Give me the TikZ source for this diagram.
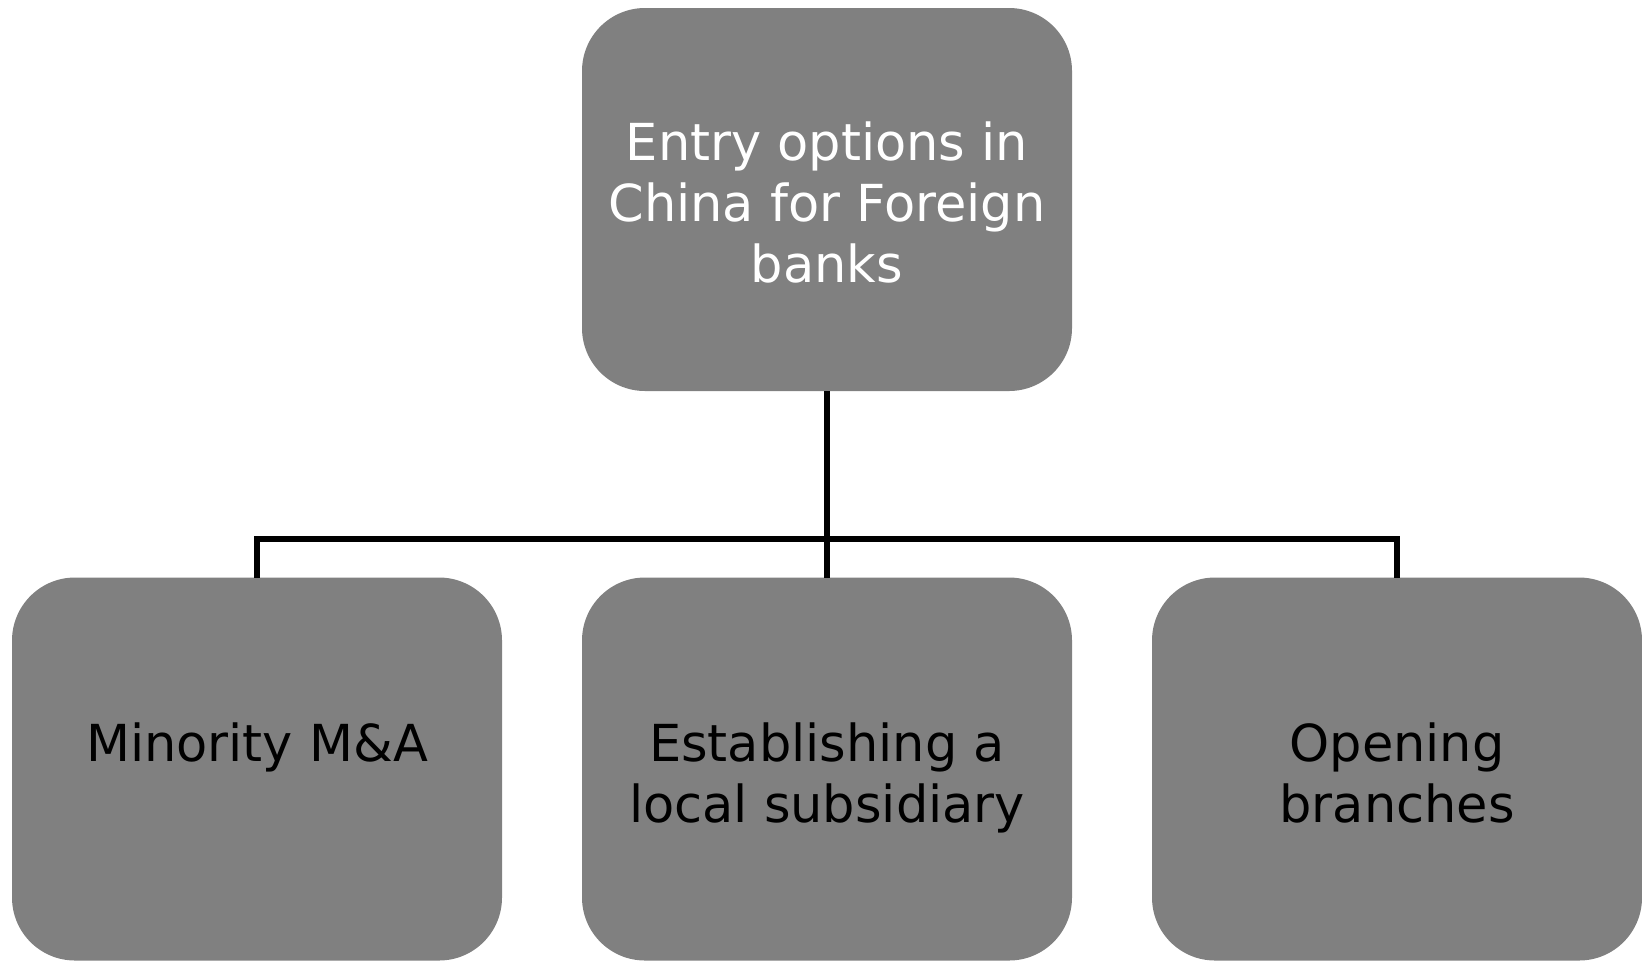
\documentclass[tikz,border=0pt]{standalone}
\usepackage{fontspec}
\setmainfont{DejaVu Sans}
\definecolor{boxgray}{RGB}{128,128,128}
\begin{document}
\begin{tikzpicture}[x=0.5pt,y=-0.5pt,
  boxnode/.style={draw=none,fill=boxgray,rounded corners=31.5pt,
    minimum width=245pt,minimum height=191.5pt,inner sep=0pt,outer sep=0pt},
  boxtext/.style={font=\fontsize{25.5}{30.5}\selectfont,align=center,anchor=base,inner sep=0pt},
  conn/.style={line width=2.8pt,black}]
\useasboundingbox (0,0) rectangle (1642,960);
\node[boxnode] (top) at (827,199.5) {};
\node[boxnode] (left) at (257,769) {};
\node[boxnode] (mid) at (827,769) {};
\node[boxnode] (right) at (1397,769) {};
\node[boxtext,text=white] (toptext) at (827,282) {Entry options in\\China for Foreign\\banks};
\node[boxtext] (lefttext) at (257,761) {Minority M\&A};
\node[boxtext] (midtext) at (827,822) {Establishing a\\local subsidiary};
\node[boxtext] (righttext) at (1397,822) {Opening\\branches};
\coordinate (bus) at (827,539);
\draw[conn] (top.south) -- (mid.north);
\draw[conn] (left.north) -- (left.north |- bus) -- (right.north |- bus) -- (right.north);
\end{tikzpicture}
\end{document}
